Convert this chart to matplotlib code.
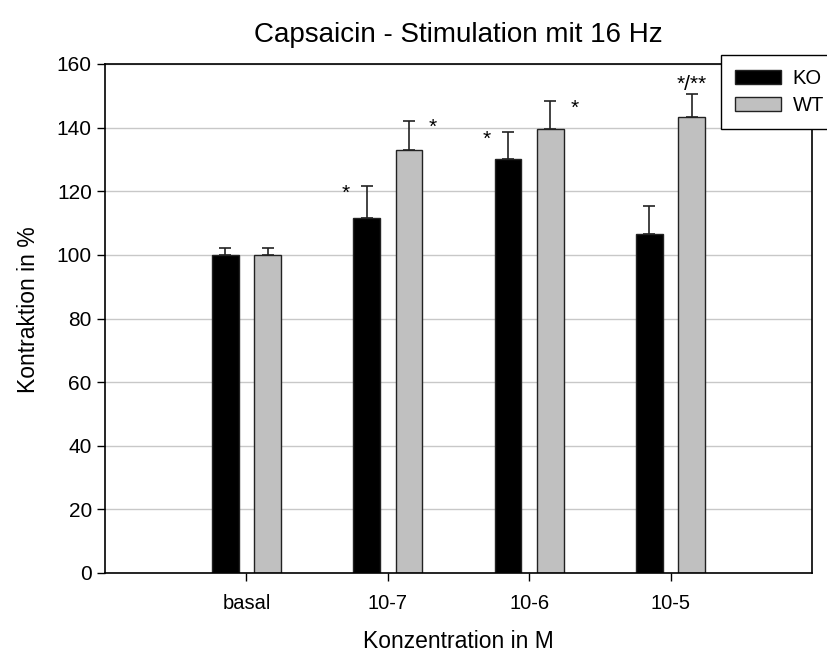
import numpy as np
import matplotlib.pyplot as plt
from matplotlib.patches import Patch

plt.rcParams['font.family'] = ['Liberation Sans', 'DejaVu Sans']

categories = ['basal', '10-7', '10-6', '10-5']
ko_mean = [100, 111.5, 130, 106.5]
ko_err = [2.2, 10, 8.7, 9]
wt_mean = [100, 133, 139.7, 143.3]
wt_err = [2.2, 9.2, 8.7, 7.4]
# significance marks: (category index, group, text)
marks = [(1, 'KO', '*'), (1, 'WT', '*'), (2, 'KO', '*'), (2, 'WT', '*'), (3, 'WT', '*/**')]

x = np.arange(1, len(categories) + 1)
w = 0.19
off = 0.15

fig = plt.figure(figsize=(8.27, 6.54), dpi=100)
ax = fig.add_axes([105 / 827, 1 - 573 / 654, 707 / 827, 509 / 654])

ax.yaxis.grid(True, color='#c8c8c8', linewidth=1)
ax.set_axisbelow(True)

zeros = np.zeros(len(x))
ekw = dict(ecolor='#222222', elinewidth=1.2, capsize=4.5, capthick=1.2)
ax.bar(x - off, ko_mean, w, color='black', edgecolor='#222222', linewidth=1,
       yerr=[zeros, ko_err], error_kw=ekw)
ax.bar(x + off, wt_mean, w, color='#c0c0c0', edgecolor='#222222', linewidth=1,
       yerr=[zeros, wt_err], error_kw=ekw)

for i, grp, txt in marks:
    if grp == 'KO':
        top = ko_mean[i] + ko_err[i]
        ax.text(x[i] - off - 0.15, top - 2.3, txt, ha='center', va='center', fontsize=15)
    elif txt == '*':
        top = wt_mean[i] + wt_err[i]
        ax.text(x[i] + off + 0.17, top - 2.2, txt, ha='center', va='center', fontsize=15)
    else:
        top = wt_mean[i] + wt_err[i]
        ax.text(x[i] + off, top + 3.0, txt, ha='center', va='center', fontsize=15)

ax.set_xlim(0, 5)
ax.set_ylim(0, 160)
ax.set_yticks(np.arange(0, 161, 20))
ax.set_xticks(x)
ax.set_xticklabels(categories, fontsize=14.5)
ax.tick_params(axis='y', labelsize=15, direction='out', length=6, width=1)
ax.tick_params(axis='x', direction='out', length=6, width=1, pad=9)
for s in ax.spines.values():
    s.set_linewidth(1.2)

ax.set_title('Capsaicin - Stimulation mit 16 Hz', fontsize=20, pad=16)
ax.set_xlabel('Konzentration in M', fontsize=16.5, labelpad=12)
ax.set_ylabel('Kontraktion in %', fontsize=16.5, labelpad=12)
ax.yaxis.label.set_y(0.517)

handles = [Patch(facecolor='black', edgecolor='#222222', label='KO'),
           Patch(facecolor='#c0c0c0', edgecolor='#222222', label='WT')]
leg = fig.legend(handles=handles, loc='upper left', bbox_to_anchor=(721 / 827, 1 - 55 / 654),
                 fontsize=14.5, frameon=True, fancybox=False, framealpha=1,
                 edgecolor='black', handlelength=2.3, handleheight=0.7,
                 borderpad=0.7, labelspacing=0.4, handletextpad=0.55,
                 borderaxespad=0)
leg.get_frame().set_linewidth(1)

fig.savefig('out.png', dpi=100)
